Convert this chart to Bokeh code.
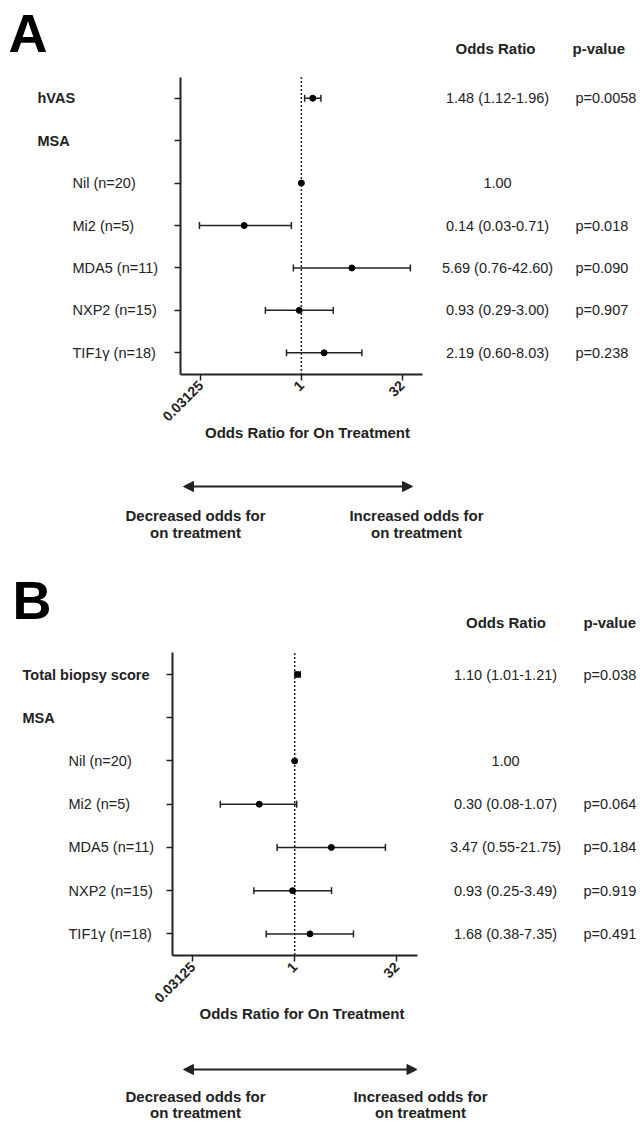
import math
from bokeh.plotting import figure
from bokeh.models import (ColumnDataSource, Range1d, FixedTicker, CustomJSTickFormatter,
                          Whisker, TeeHead, Label, LabelSet, Arrow, NormalHead)
from bokeh.layouts import column
from bokeh.core.properties import value, field
from bokeh.embed import file_html
from bokeh.resources import INLINE

FONT = "Liberation Sans"
INK = "#222222"

# ---------------- data ----------------
a_rows = ["hVAS", "MSA", "Nil (n=20)", "Mi2 (n=5)", "MDA5 (n=11)", "NXP2 (n=15)", "TIF1\u03b3 (n=18)"]
a_bold = [True, True, False, False, False, False, False]
a_or = [1.48, None, 1.00, 0.14, 5.69, 0.93, 2.19]
a_lo = [1.12, None, None, 0.03, 0.76, 0.29, 0.60]
a_hi = [1.96, None, None, 0.71, 42.60, 3.00, 8.03]
a_or_text = ["1.48 (1.12-1.96)", "", "1.00", "0.14 (0.03-0.71)", "5.69 (0.76-42.60)",
             "0.93 (0.29-3.00)", "2.19 (0.60-8.03)"]
a_p = ["p=0.0058", "", "", "p=0.018", "p=0.090", "p=0.907", "p=0.238"]

b_rows = ["Total biopsy score", "MSA", "Nil (n=20)", "Mi2 (n=5)", "MDA5 (n=11)", "NXP2 (n=15)",
          "TIF1\u03b3  (n=18)"]
b_bold = [True, True, False, False, False, False, False]
b_or = [1.10, None, 1.00, 0.30, 3.47, 0.93, 1.68]
b_lo = [1.01, None, None, 0.08, 0.55, 0.25, 0.38]
b_hi = [1.21, None, None, 1.07, 21.75, 3.49, 7.35]
b_or_text = ["1.10 (1.01-1.21)", "", "1.00", "0.30 (0.08-1.07)", "3.47 (0.55-21.75)",
             "0.93 (0.25-3.49)", "1.68 (0.38-7.35)"]
b_p = ["p=0.038", "", "", "p=0.064", "p=0.184", "p=0.919", "p=0.491"]

x_ticks = [0.03125, 1, 32]
x_lim = (2 ** -6, 2 ** 6)
x_title = "Odds Ratio for On Treatment"
dec_text = ["Decreased odds for", "on treatment"]
inc_text = ["Increased odds for", "on treatment"]
hdr_or = "Odds Ratio"
hdr_p = "p-value"


def make_panel(letter, rows, bold, ors, lo, hi, or_text, pvals, g):
    W, H = 640, g["H"]
    n = len(rows)
    # plot area geometry (pixels) -> ranges that span the whole canvas
    k = (g["fr"] - g["fl"]) / (math.log2(x_lim[1]) - math.log2(x_lim[0]))
    Ls = math.log2(x_lim[0]) - g["fl"] / k
    Le = math.log2(x_lim[1]) + (W - g["fr"]) / k
    step = (g["fb"] - g["ft"]) / n
    r_top = -g["ft"] / step - 0.5
    r_bot = (H - g["ft"]) / step - 0.5

    p = figure(width=W, height=H, output_backend="svg", toolbar_location=None,
               x_axis_type="log", x_range=Range1d(2 ** Ls, 2 ** Le),
               y_range=Range1d(r_bot, r_top), min_border=0)
    p.outline_line_color = None
    p.xgrid.visible = False
    p.ygrid.visible = False
    p.background_fill_color = "white"
    p.border_fill_color = "white"

    ys = list(range(n))

    # axes
    xa = p.xaxis[0]
    xa.fixed_location = n - 0.5
    xa.bounds = x_lim
    xa.ticker = FixedTicker(ticks=x_ticks)
    xa.formatter = CustomJSTickFormatter(code="return String(tick)")
    xa.major_label_orientation = math.pi / 4
    xa.major_label_text_font = FONT
    xa.major_label_text_font_style = "bold"
    xa.major_label_text_font_size = "14px"
    xa.major_label_text_color = INK
    xa.major_label_standoff = 3
    xa.axis_line_width = 2
    xa.axis_line_color = INK
    xa.major_tick_line_width = 1.5
    xa.major_tick_line_color = INK
    xa.major_tick_in = 0
    xa.major_tick_out = 6
    xa.minor_tick_line_color = None

    ya = p.yaxis[0]
    ya.fixed_location = x_lim[0]
    ya.bounds = (-0.5, n - 0.5)
    ya.ticker = FixedTicker(ticks=ys)
    ya.formatter = CustomJSTickFormatter(code="return ''")
    ya.axis_line_width = 2
    ya.axis_line_color = INK
    ya.major_tick_line_width = 1.5
    ya.major_tick_line_color = INK
    ya.major_tick_in = 0
    ya.major_tick_out = 6
    ya.minor_tick_line_color = None

    # reference line at OR = 1
    p.segment(x0=[1], x1=[1], y0=[-0.5], y1=[n - 0.5], line_color=INK,
              line_dash="2 2", line_width=1.5)

    # confidence intervals
    ci = ColumnDataSource(dict(
        y=[y for y, l in zip(ys, lo) if l is not None],
        lo=[l for l in lo if l is not None],
        hi=[h for h in hi if h is not None]))
    p.add_layout(Whisker(source=ci, base="y", lower="lo", upper="hi", dimension="width",
                         line_color=INK, line_width=1.5,
                         lower_head=TeeHead(size=7, line_color=INK, line_width=1.5),
                         upper_head=TeeHead(size=7, line_color=INK, line_width=1.5)))
    pts = ColumnDataSource(dict(
        y=[y for y, o in zip(ys, ors) if o is not None],
        x=[o for o in ors if o is not None]))
    p.scatter(x="x", y="y", source=pts, size=6, color="black")

    # row labels and table columns
    lab = ColumnDataSource(dict(
        y=ys, text=rows,
        x=[g["lx_b"] if b else g["lx_i"] for b in bold],
        style=["bold" if b else "normal" for b in bold],
        ortext=or_text, ptext=pvals,
        xo=[g["orx"]] * n, xp=[g["px"]] * n))
    p.add_layout(LabelSet(source=lab, x="x", y="y", text="text", x_units="screen",
                          text_font=value(FONT), text_font_size="14.5px",
                          text_font_style=field("style"), text_color=INK,
                          text_baseline="middle", text_align="left"))
    p.add_layout(LabelSet(source=lab, x="xo", y="y", text="ortext", x_units="screen",
                          text_font=value(FONT), text_font_size="14.5px", text_color=INK,
                          text_baseline="middle", text_align="center"))
    p.add_layout(LabelSet(source=lab, x="xp", y="y", text="ptext", x_units="screen",
                          text_font=value(FONT), text_font_size="14.5px", text_color=INK,
                          text_baseline="middle", text_align="left"))

    def lbl(x, ytop, text, size, align="center", baseline="middle", color=INK):
        p.add_layout(Label(x=x, y=H - ytop, x_units="screen", y_units="screen", text=text,
                           text_font=FONT, text_font_size=size, text_font_style="bold",
                           text_color=color, text_align=align, text_baseline=baseline))

    lbl(g["lx_letter"], g["ly_letter"], letter, "54px", align="left", color="black")
    lbl(g["hx_or"], g["hy"], hdr_or, "15px")
    lbl(g["hx_p"], g["hy"], hdr_p, "15px", align="left")
    lbl(g["tx"], g["ty"], x_title, "15px")
    lbl(g["dx"], g["dy"], dec_text[0], "15px")
    lbl(g["dx"], g["dy"] + g["dl"], dec_text[1], "15px")
    lbl(g["ix"], g["dy"], inc_text[0], "15px")
    lbl(g["ix"], g["dy"] + g["dl"], inc_text[1], "15px")

    p.add_layout(Arrow(x_start=g["ax0"], x_end=g["ax1"], y_start=H - g["ay"], y_end=H - g["ay"],
                       start_units="screen", end_units="screen", line_width=2, line_color=INK,
                       start=NormalHead(size=10, fill_color=INK, line_color=INK),
                       end=NormalHead(size=10, fill_color=INK, line_color=INK)))
    return p


gA = dict(H=570, fl=180, fr=421.7, ft=76.5, fb=373.5,
          lx_b=37, lx_i=72, orx=497, px=575,
          lx_letter=8, ly_letter=32, hx_or=495, hx_p=572, hy=48,
          tx=307, ty=432, dx=195, ix=416, dy=515, dl=17, ax0=183, ax1=412, ay=486)
gB = dict(H=552, fl=171.7, fr=416.7, ft=82.4, fb=385,
          lx_b=22, lx_i=68, orx=505, px=583,
          lx_letter=12, ly_letter=29, hx_or=505.5, hx_p=583, hy=52,
          tx=301.5, ty=443, dx=195, ix=420, dy=526, dl=16, ax0=183, ax1=416.5, ay=499)

pA = make_panel("A", a_rows, a_bold, a_or, a_lo, a_hi, a_or_text, a_p, gA)
pB = make_panel("B", b_rows, b_bold, b_or, b_lo, b_hi, b_or_text, b_p, gB)

layout = column(pA, pB, spacing=0)
open("out.html", "w").write(file_html(layout, INLINE))
